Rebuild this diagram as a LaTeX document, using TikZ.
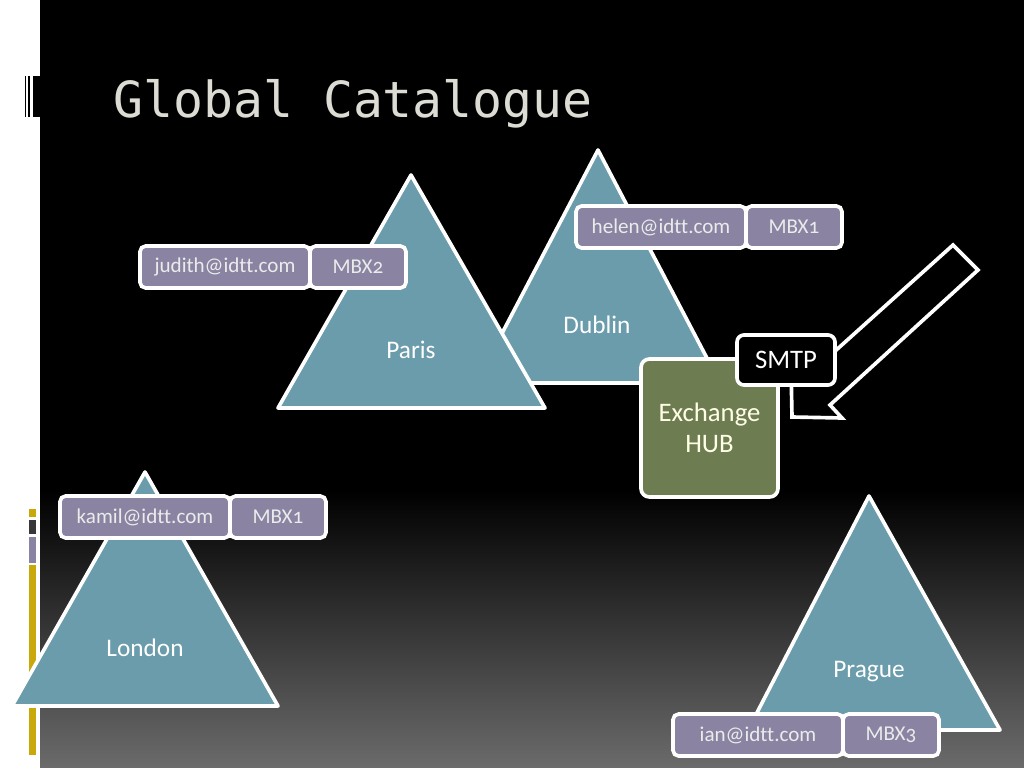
\documentclass[tikz,border=0pt]{standalone}
\usepackage{fontspec}
\setmainfont[Numbers=OldStyle,Ligatures=NoCommon]{Carlito}
\newfontfamily\titlefont{DejaVu Sans Mono}
\usetikzlibrary{positioning}
\newlength\pxu
\setlength\pxu{0.025cm}
\definecolor{sitecol}{HTML}{6A9CAB}
\definecolor{mbxcol}{HTML}{8A84A2}
\definecolor{hubcol}{HTML}{6E7C52}
\definecolor{stripyellow}{HTML}{C8A80A}
\definecolor{titlecol}{HTML}{DCDCD4}
\begin{document}
\begin{tikzpicture}
    [x=\pxu,y=-\pxu,
    site/.style={draw=white,line width=2.6pt,fill=sitecol,line join=round},
    sitename/.style={text=white,font=\fontsize{18}{21}\selectfont},
    mail/.style={draw=white,line width=2.6pt,fill=mbxcol,rounded corners=4pt,%
      text=white!92!black,font=\fontsize{15}{18}\selectfont,%
      minimum width=170\pxu,minimum height=42\pxu,inner sep=0pt},
    mbx/.style={mail,minimum width=96\pxu},
    smtparrow/.style={draw=white,line width=2.6pt,fill=black,line join=miter}]
    \tikzstyle{hub}=[draw=white,line width=2.6pt,fill=hubcol,rounded corners=6pt,%
      minimum width=137\pxu,minimum height=138\pxu,align=center,text=white!90!yellow,%
      font=\fontsize{19}{22}\selectfont]

    \fill[white] (0,0) rectangle (40,768);
    \fill[black] (40,0) rectangle (1024,490);
    \shade[top color=black,bottom color=black!58] (40,490) rectangle (1024,768);
    \fill[black] (25,76) rectangle (26,117);
    \fill[black] (28,76) rectangle (29.5,117);
    \fill[black] (33,76) rectangle (40,117);
    \fill[stripyellow] (29,509) rectangle (36,517);
    \fill[black!78] (29,520) rectangle (36,534);
    \fill[mbxcol] (29,537) rectangle (36,563);
    \fill[stripyellow] (29,565) rectangle (36,755);

    \node[anchor=base west,inner sep=0pt,text=titlecol,font=\titlefont\fontsize{35.4}{40}\selectfont]
    (title) at (113,118) {Global Catalogue};

    \draw[site] (598,150) -- (720,383) -- (476,383) -- cycle;
    \draw[site] (411,175) -- (545,408) -- (278,408) -- cycle;
    \draw[site] (145,472) -- (278,706) -- (12,706) -- cycle;
    \draw[site] (869,496) -- (1000,730) -- (748,730) -- cycle;
    \node[sitename] (dublin) at (597,325) {Dublin};
    \node[sitename] (paris) at (411,350) {Paris};
    \node[sitename] (london) at (145,648) {London};
    \node[sitename] (prague) at (869,672) {Prague};

    \draw[smtparrow] (953,245) -- (978,270) -- (830,405) -- (842,418) -- (792,417)
    -- (791,367) -- (804,379) -- cycle;

    \node[hub] (hub) at (709.5,428) {Exchange\\HUB};
    \node[draw=white,line width=2.6pt,fill=black,rounded corners=5pt,text=white,%
      font=\fontsize{19}{22}\selectfont,minimum width=98\pxu,minimum height=50\pxu]
    (smtp) at (786,360) {SMTP};

    \node[mail] (judith) at (225,267) {judith@idtt.com};
    \node[mbx,right=-2.6pt of judith] (judithmbx) {MBX2};
    \node[mail] (helen) at (661,227) {helen@idtt.com};
    \node[mbx,right=-2.6pt of helen] (helenmbx) {MBX1};
    \node[mail] (kamil) at (145,517) {kamil@idtt.com};
    \node[mbx,right=-2.6pt of kamil] (kamilmbx) {MBX1};
    \node[mail] (ian) at (758,735) {ian@idtt.com};
    \node[mbx,right=-2.6pt of ian] (ianmbx) {MBX3};

\end{tikzpicture}
\end{document}
